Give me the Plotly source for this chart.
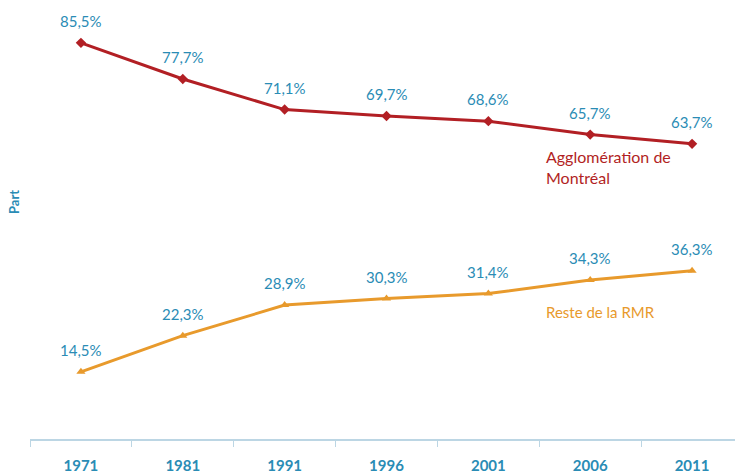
import plotly.graph_objects as go

years = ["1971", "1981", "1991", "1996", "2001", "2006", "2011"]
montreal = [85.5, 77.7, 71.1, 69.7, 68.6, 65.7, 63.7]
reste = [14.5, 22.3, 28.9, 30.3, 31.4, 34.3, 36.3]
name_montreal = "Agglomération de<br>Montréal"
name_reste = "Reste de la RMR"
y_title = "Part"

RED = "#b21f24"
ORANGE = "#e89a2c"
TEAL = "#2a8cb5"
FONT = "Lato"

fig = go.Figure()
fig.add_trace(go.Scatter(x=years, y=montreal, mode="lines+markers",
                         line=dict(color=RED, width=3),
                         marker=dict(symbol="diamond", size=8, color=RED),
                         showlegend=False, hoverinfo="skip"))
fig.add_trace(go.Scatter(x=years, y=reste, mode="lines+markers",
                         line=dict(color=ORANGE, width=3),
                         marker=dict(symbol="triangle-up", size=8, color=ORANGE),
                         showlegend=False, hoverinfo="skip"))

def fmt(v):
    return f"{v:.1f}".replace(".", ",") + "%"

for series in (montreal, reste):
    for i, v in enumerate(series):
        fig.add_annotation(x=i, y=v, xref="x", yref="y", text=fmt(v), showarrow=False,
                           yshift=22, font=dict(family=FONT, size=15, color=TEAL))

fig.add_annotation(x=4.55, y=montreal[-1], xref="x", yref="y", text=name_montreal,
                   showarrow=False, xanchor="left", yanchor="top", align="left",
                   yshift=-1, font=dict(family=FONT, size=16, color=RED))
fig.add_annotation(x=4.55, y=27.5, xref="x", yref="y", text=name_reste,
                   showarrow=False, xanchor="left", yanchor="middle", align="left",
                   font=dict(family=FONT, size=15, color=ORANGE))
fig.add_annotation(x=-16/713, y=(439-202)/417, xref="paper", yref="paper",
                   xanchor="center", yanchor="middle",
                   text="<b>" + y_title + "</b>",
                   showarrow=False, textangle=-90, font=dict(family=FONT, size=13, color=TEAL))

fig.update_layout(
    width=743, height=475,
    margin=dict(l=22, r=8, t=14, b=44),
    plot_bgcolor="white", paper_bgcolor="white",
    font=dict(family=FONT),
    xaxis=dict(type="category", showgrid=False, zeroline=False,
               showline=True, linecolor="#bcd6e4", linewidth=1.5,
               ticks="outside", ticklen=6, tickcolor="#bcd6e4",
               tickson="boundaries", ticklabelstandoff=12,
               tickfont=dict(family=FONT, size=15, color=TEAL),
               tickprefix="<b>", ticksuffix="</b>", range=[-0.5, 6.5]),
    yaxis=dict(range=[0, 90], showgrid=False, zeroline=False, showline=False,
               showticklabels=False, ticks=""),
)
fig.write_html("out.html")
